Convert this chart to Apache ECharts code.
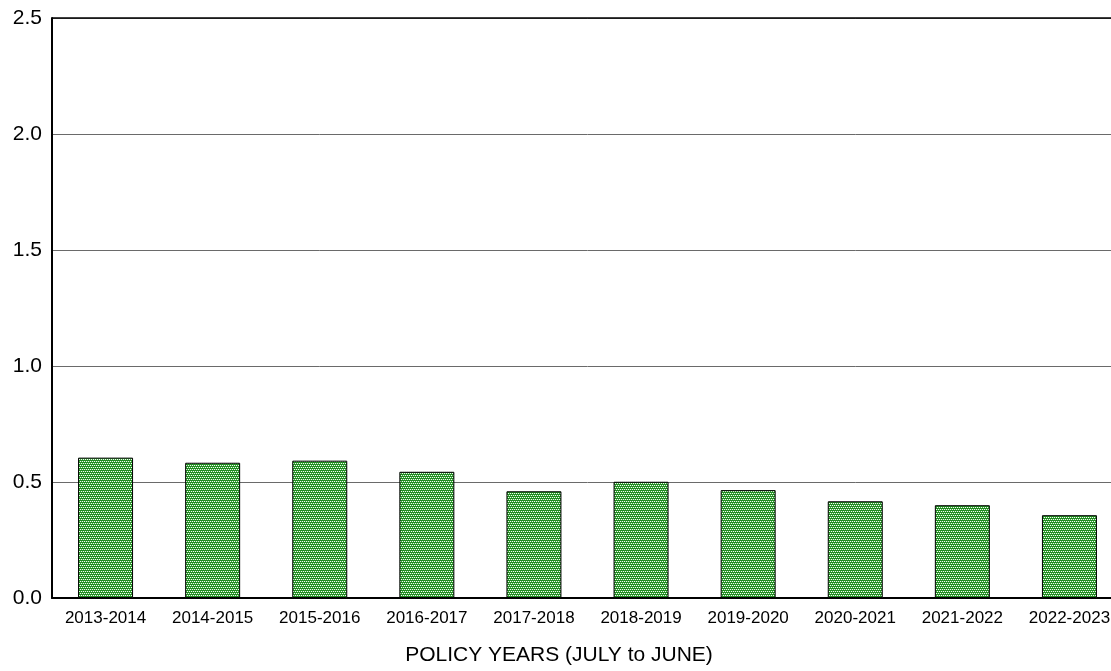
<!DOCTYPE html>
<html><head><meta charset="utf-8">
<script src="https://cdn.jsdelivr.net/npm/echarts@6/dist/echarts.min.js"></script>
<style>html,body{margin:0;padding:0;background:#fff;overflow:hidden}#c{width:1140px;height:671px}</style>
</head><body><div id="c"></div>
<script>
const categories = ['2013-2014','2014-2015','2015-2016','2016-2017','2017-2018','2018-2019','2019-2020','2020-2021','2021-2022','2022-2023'];
const values = [0.605, 0.583, 0.592, 0.544, 0.46, 0.501, 0.465, 0.417, 0.40, 0.357];
const yTicks = [0, 0.5, 1.0, 1.5, 2.0, 2.5];
const xTitle = 'POLICY YEARS (JULY to JUNE)';

function makePattern(){
  const c = document.createElement('canvas');
  c.width = 4; c.height = 4;
  const g = c.getContext('2d');
  g.fillStyle = '#7fcb7f'; g.fillRect(0,0,4,4);
  g.fillStyle = '#1f8b1f';
  g.fillRect(0,0,4,1); g.fillRect(0,2,4,1);
  g.fillStyle = '#f4fbf4';
  g.fillRect(0,1,1,1); g.fillRect(2,1,1,1); g.fillRect(1,3,1,1); g.fillRect(3,3,1,1);
  g.fillStyle = '#3fa83f';
  g.fillRect(1,1,1,1); g.fillRect(3,1,1,1); g.fillRect(0,3,1,1); g.fillRect(2,3,1,1);
  return c;
}

const chart = echarts.init(document.getElementById('c'), null, {renderer:'canvas'});
chart.setOption({
  animation:false,
  backgroundColor:'#fff',
  grid:{left:52, top:18, width:1071, height:580, containLabel:false},
  xAxis:{
    type:'category', data:categories,
    axisLine:{show:true, lineStyle:{color:'#000', width:2}},
    axisTick:{show:false},
    axisLabel:{color:'#000', fontSize:17, fontFamily:'Liberation Sans, Arial', margin:12, interval:0},
    splitLine:{show:false}
  },
  yAxis:{
    type:'value', min:0, max:2.5, interval:0.5,
    axisLine:{show:true, lineStyle:{color:'#000', width:2}},
    axisTick:{show:false},
    axisLabel:{color:'#000', fontSize:21, fontFamily:'Liberation Sans, Arial', margin:10,
      formatter:function(v){ const t = yTicks.find(x=>Math.abs(x-v)<1e-9); return (t!==undefined?t:v).toFixed(1);} },
    splitLine:{show:true, lineStyle:{color:'#6a6a6a', width:1}}
  },
  graphic:[
    {type:'line', shape:{x1:52,y1:18,x2:1123,y2:18}, style:{stroke:'#000', lineWidth:1.5}, z:10},
    {type:'text', x:559, y:655, style:{text:xTitle, fill:'#000', font:'21px "Liberation Sans", Arial', align:'center', verticalAlign:'middle'}}
  ],
  series:[{
    type:'bar', data:values, barWidth:55,
    itemStyle:{color:{image:makePattern(), repeat:'repeat'}, borderColor:'#000', borderWidth:1}
  }]
});
</script></body></html>
